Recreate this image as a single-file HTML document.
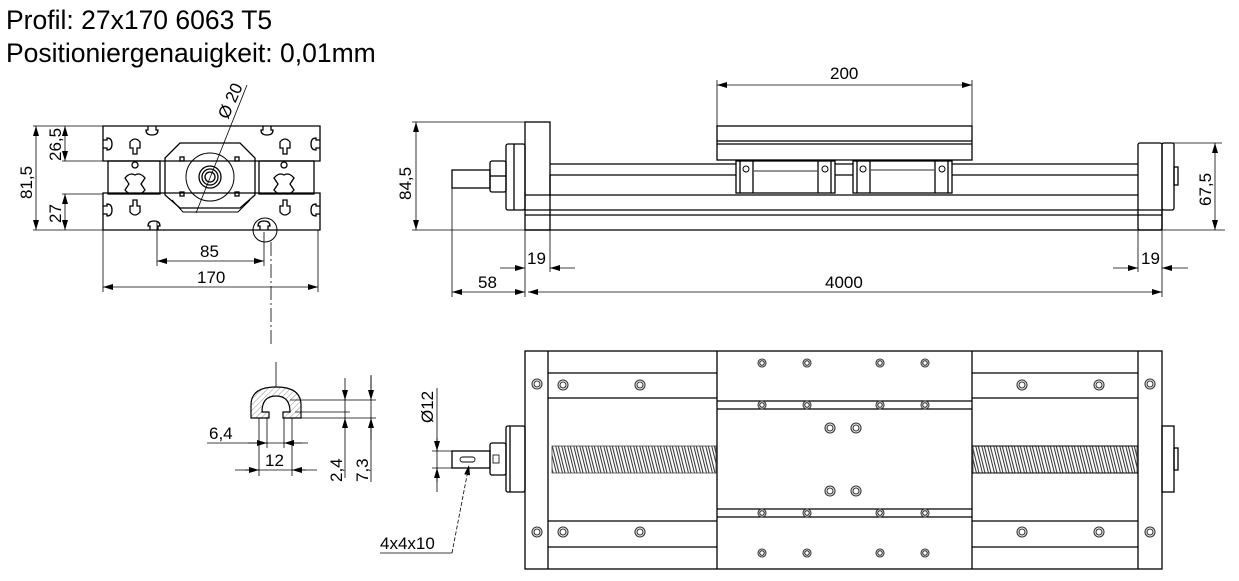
<!DOCTYPE html>
<html><head><meta charset="utf-8"><style>
html,body{margin:0;padding:0;background:#fff;}
svg{display:block;}
text{font-family:"Liberation Sans",Arial,sans-serif;fill:#000;}
</style></head><body>
<svg width="1239" height="581" viewBox="0 0 1239 581" xmlns="http://www.w3.org/2000/svg">
<defs>
<marker id="a" viewBox="0 0 10 6" refX="10" refY="3" markerWidth="10" markerHeight="6" markerUnits="userSpaceOnUse" orient="auto-start-reverse"><path d="M0,0 L10,3 L0,6z" fill="#000"/></marker>
<pattern id="th" width="6" height="30" patternUnits="userSpaceOnUse" patternTransform="skewX(14)">
<rect x="0.5" y="-1" width="2.6" height="32" fill="none" stroke="#333" stroke-width="1.1"/>
</pattern>
<pattern id="hat" width="4" height="4" patternUnits="userSpaceOnUse" patternTransform="rotate(45)"><line x1="0" y1="0" x2="0" y2="4" stroke="#666" stroke-width="0.7"/></pattern>
<g id="h"><circle r="5" fill="#fff" stroke="#333" stroke-width="1.1"/><circle r="3" fill="none" stroke="#333" stroke-width="1.1"/></g>
<g id="hs"><circle r="4" fill="#fff" stroke="#333" stroke-width="1.1"/><circle r="2.3" fill="none" stroke="#333" stroke-width="1.1"/></g>
</defs>
<text x="6" y="29" font-size="26.5">Profil: 27x170 6063 T5</text>
<text x="6" y="62" font-size="26.5">Positioniergenauigkeit: 0,01mm</text>

<g fill="none" stroke="#000" stroke-width="1.3">
<path d="M103,126 H320 V161 H103Z"/>
<path d="M103,193 H320 V230 H103Z"/>
<rect x="108" y="161" width="52" height="33"/>
<rect x="259" y="161" width="55" height="33"/>
<path d="M180,143 H240 L255,158 V195 L240,208 H180 L165,195 V158Z"/>
<path d="M172,200 L183,212 H238 L250,200" stroke-width="1"/>
<circle cx="210" cy="177" r="24" stroke-width="1"/>
<circle cx="210" cy="177" r="11"/><circle cx="210" cy="177" r="8"/><circle cx="210" cy="177" r="5"/>
<rect x="180" y="157" width="4" height="4"/><rect x="235" y="157" width="4" height="4"/>
<rect x="180" y="192" width="4" height="4"/><rect x="235" y="192" width="4" height="4"/>
<circle cx="135" cy="165" r="3"/><circle cx="284" cy="165" r="3"/>
<path d="M125,178 q5,-6 10,-3 q5,-3 10,3 l-4,6 l4,6 q-5,6 -10,3 q-5,3 -10,-3 l4,-6z"/>
<path d="M274,178 q5,-6 10,-3 q5,-3 10,3 l-4,6 l4,6 q-5,6 -10,3 q-5,3 -10,-3 l4,-6z"/>
<path d="M148,126 v4 h-2 q0,5 6,5 q6,0 6,-5 h-2 v-4"/>
<path d="M263,126 v4 h-2 q0,5 6,5 q6,0 6,-5 h-2 v-4"/>
<path d="M150,230 v-4 h-2 q0,-5 6,-5 q6,0 6,5 h-2 v4"/>
<path d="M103,140 h4 v-2 q5,0 5,6 q0,6 -5,6 v-2 h-4"/>
<path d="M320,140 h-4 v-2 q-5,0 -5,6 q0,6 5,6 v-2 h4"/>
<path d="M103,206 h4 v-2 q5,0 5,6 q0,6 -5,6 v-2 h-4"/>
<path d="M320,206 h-4 v-2 q-5,0 -5,6 q0,6 5,6 v-2 h4"/>
<path d="M130,142 q5,-6 10,0 v6 h-3 v6 h-4 v-6 h-3z"/>
<path d="M280,142 q5,-6 10,0 v6 h-3 v6 h-4 v-6 h-3z"/>
<path d="M130,212 q5,6 10,0 v-6 h-3 v-6 h-4 v6 h-3z"/>
<path d="M280,212 q5,6 10,0 v-6 h-3 v-6 h-4 v6 h-3z"/>
<circle cx="265" cy="230" r="12" stroke-width="1"/>
<path d="M260,230 v-4 h-2 q0,-5 6,-5 q6,0 6,5 h-2 v4"/>
</g>
<g stroke="#000" stroke-width="0.8" fill="none">
<line x1="33" y1="126" x2="103" y2="126"/><line x1="33" y1="230" x2="103" y2="230"/>
<line x1="62" y1="161" x2="103" y2="161"/><line x1="62" y1="194" x2="103" y2="194"/>
<line x1="36" y1="126" x2="36" y2="230" marker-start="url(#a)" marker-end="url(#a)"/>
<line x1="65" y1="126" x2="65" y2="161" marker-start="url(#a)" marker-end="url(#a)"/>
<line x1="65" y1="194" x2="65" y2="230" marker-start="url(#a)" marker-end="url(#a)"/>
<line x1="103" y1="230" x2="103" y2="292"/><line x1="318" y1="230" x2="318" y2="292"/>
<line x1="157" y1="222" x2="157" y2="266"/><line x1="264" y1="232" x2="264" y2="266"/>
<line x1="157" y1="261" x2="264" y2="261" marker-start="url(#a)" marker-end="url(#a)"/>
<line x1="103" y1="287" x2="318" y2="287" marker-start="url(#a)" marker-end="url(#a)"/>
<line x1="271" y1="242" x2="271" y2="345" stroke-dasharray="14,3,2,3"/>
<line x1="247" y1="85" x2="196" y2="213"/>
</g>
<text x="0" y="0" font-size="17" transform="translate(32,199) rotate(-90)">81,5</text>
<text x="0" y="0" font-size="17" transform="translate(61,161) rotate(-90)">26,5</text>
<text x="0" y="0" font-size="17" transform="translate(61,223) rotate(-90)">27</text>
<text x="200" y="257" font-size="17">85</text>
<text x="197" y="283" font-size="17">170</text>
<text x="0" y="0" font-size="17" transform="translate(228,120) rotate(-66)">Ø 20</text>

<path d="M251,418 V405 Q251,387 276,387 Q301,387 301,405 V418 H283 V412 H290 Q290,396 276,396 Q262,396 262,412 H269 V418Z" fill="url(#hat)" stroke="#000" stroke-width="1.2"/>
<g stroke="#000" stroke-width="0.8" fill="none">
<line x1="276" y1="387" x2="276" y2="362"/>
<line x1="290" y1="400" x2="376" y2="400"/><line x1="295" y1="412" x2="350" y2="412"/><line x1="301" y1="418" x2="376" y2="418"/>
<line x1="345" y1="378" x2="345" y2="478"/><line x1="345" y1="390" x2="345" y2="400" marker-end="url(#a)"/><line x1="345" y1="428" x2="345" y2="418" marker-end="url(#a)"/>
<line x1="371" y1="375" x2="371" y2="482"/><line x1="371" y1="376" x2="371" y2="400" marker-end="url(#a)"/><line x1="371" y1="440" x2="371" y2="418" marker-end="url(#a)"/>
<line x1="259" y1="418" x2="259" y2="476"/><line x1="292" y1="418" x2="292" y2="476"/>
<line x1="267" y1="418" x2="267" y2="448"/><line x1="284" y1="418" x2="284" y2="448"/>
<line x1="207" y1="443" x2="308" y2="443"/><line x1="248" y1="443" x2="267" y2="443" marker-end="url(#a)"/><line x1="302" y1="443" x2="284" y2="443" marker-end="url(#a)"/>
<line x1="235" y1="470" x2="317" y2="470"/><line x1="245" y1="470" x2="259" y2="470" marker-end="url(#a)"/><line x1="306" y1="470" x2="292" y2="470" marker-end="url(#a)"/>
</g>
<text x="209" y="439" font-size="17">6,4</text>
<text x="265" y="466" font-size="17">12</text>
<text x="0" y="0" font-size="17" transform="translate(342,482) rotate(-90)">2,4</text>
<text x="0" y="0" font-size="17" transform="translate(368,482) rotate(-90)">7,3</text>

<g fill="none" stroke="#000" stroke-width="1.3">
<rect x="525" y="122" width="25" height="108"/>
<rect x="506" y="144" width="19" height="66" rx="2"/><line x1="514" y1="144" x2="514" y2="210"/>
<rect x="490" y="161" width="16" height="31" rx="2"/><line x1="490" y1="176" x2="506" y2="176"/>
<rect x="452" y="170" width="38" height="18"/>
<line x1="550" y1="164" x2="1138" y2="164"/><line x1="550" y1="175" x2="1138" y2="175"/>
<line x1="550" y1="175" x2="550" y2="195"/>
<line x1="525" y1="195" x2="1138" y2="195"/>
<line x1="525" y1="210" x2="1162" y2="210"/><line x1="525" y1="215" x2="1162" y2="215"/>
<line x1="525" y1="230" x2="1162" y2="230"/>
<line x1="1162" y1="210" x2="1162" y2="230"/>
<rect x="1138" y="143" width="24" height="87" rx="2"/>
<rect x="1162" y="143" width="12" height="67" rx="2"/>
<rect x="1174" y="167" width="4" height="18"/>
<rect x="717" y="126" width="255" height="34" fill="#fff"/>
<line x1="717" y1="141" x2="972" y2="141"/><line x1="717" y1="144" x2="972" y2="144"/>
<rect x="736" y="161" width="99" height="32" fill="#fff"/>
<line x1="740" y1="161" x2="740" y2="193"/><line x1="753" y1="161" x2="753" y2="193"/>
<line x1="818" y1="161" x2="818" y2="193"/><line x1="831" y1="161" x2="831" y2="193"/>
<line x1="753" y1="171" x2="818" y2="171" stroke="#555"/>
<rect x="853" y="161" width="99" height="32" fill="#fff"/>
<line x1="857" y1="161" x2="857" y2="193"/><line x1="870" y1="161" x2="870" y2="193"/>
<line x1="935" y1="161" x2="935" y2="193"/><line x1="948" y1="161" x2="948" y2="193"/>
<line x1="870" y1="170" x2="935" y2="170" stroke="#555"/>
<circle cx="746" cy="169" r="3" stroke-width="1"/><circle cx="825" cy="169" r="3" stroke-width="1"/>
<circle cx="863" cy="169" r="3" stroke-width="1"/><circle cx="942" cy="169" r="3" stroke-width="1"/>
</g>
<g stroke="#000" stroke-width="0.8" fill="none">
<line x1="412" y1="122" x2="525" y2="122"/><line x1="412" y1="230" x2="525" y2="230"/>
<line x1="1162" y1="230" x2="1225" y2="230"/><line x1="1162" y1="143" x2="1222" y2="143"/>
<line x1="416" y1="122" x2="416" y2="230" marker-start="url(#a)" marker-end="url(#a)"/>
<line x1="1215" y1="143" x2="1215" y2="230" marker-start="url(#a)" marker-end="url(#a)"/>
<line x1="717" y1="80" x2="717" y2="126"/><line x1="972" y1="80" x2="972" y2="126"/>
<line x1="717" y1="85" x2="972" y2="85" marker-start="url(#a)" marker-end="url(#a)"/>
<line x1="452" y1="188" x2="452" y2="297"/><line x1="525" y1="230" x2="525" y2="297"/>
<line x1="550" y1="195" x2="550" y2="272"/><line x1="1138" y1="230" x2="1138" y2="272"/><line x1="1162" y1="230" x2="1162" y2="297"/>
<line x1="500" y1="268" x2="525" y2="268" marker-end="url(#a)"/><line x1="575" y1="268" x2="550" y2="268" marker-end="url(#a)"/>
<line x1="1113" y1="268" x2="1138" y2="268" marker-end="url(#a)"/><line x1="1188" y1="268" x2="1162" y2="268" marker-end="url(#a)"/>
<line x1="452" y1="292" x2="525" y2="292" marker-start="url(#a)" marker-end="url(#a)"/>
<line x1="528" y1="292" x2="1162" y2="292" marker-start="url(#a)" marker-end="url(#a)"/>
</g>
<text x="0" y="0" font-size="17" transform="translate(411,200) rotate(-90)">84,5</text>
<text x="0" y="0" font-size="17" transform="translate(1211,206) rotate(-90)">67,5</text>
<text x="830" y="79" font-size="17">200</text>
<text x="527" y="264" font-size="17">19</text>
<text x="1141" y="264" font-size="17">19</text>
<text x="478" y="288" font-size="17">58</text>
<text x="825" y="288" font-size="17">4000</text>

<g fill="none" stroke="#000" stroke-width="1.3">
<rect x="525" y="351" width="637" height="218"/>
<line x1="548" y1="351" x2="548" y2="569"/><line x1="1138" y1="351" x2="1138" y2="569"/>
<line x1="717" y1="351" x2="717" y2="569"/><line x1="972" y1="351" x2="972" y2="569"/>
<line x1="548" y1="373" x2="717" y2="373"/><line x1="548" y1="398" x2="717" y2="398"/>
<line x1="548" y1="521" x2="717" y2="521"/><line x1="548" y1="547" x2="717" y2="547"/>
<line x1="972" y1="373" x2="1138" y2="373"/><line x1="972" y1="398" x2="1138" y2="398"/>
<line x1="972" y1="521" x2="1138" y2="521"/><line x1="972" y1="547" x2="1138" y2="547"/>
<line x1="717" y1="401" x2="972" y2="401"/><line x1="717" y1="409" x2="972" y2="409"/>
<line x1="717" y1="509" x2="972" y2="509"/><line x1="717" y1="517" x2="972" y2="517"/>
<rect x="506" y="426" width="19" height="66" rx="2"/><line x1="510" y1="426" x2="510" y2="492"/>
<rect x="490" y="443" width="16" height="32" rx="2"/><rect x="493" y="455" width="6" height="8" stroke-width="0.8"/>
<rect x="452" y="451" width="38" height="17"/>
<rect x="460" y="457" width="15" height="5" rx="2.5" stroke-width="0.9"/>
<rect x="1162" y="426" width="12" height="66"/>
<rect x="1174" y="448" width="4" height="22"/>
</g>
<rect x="552" y="446" width="164" height="27" fill="url(#th)" stroke="#444" stroke-width="0.8"/>
<rect x="973" y="446" width="164" height="27" fill="url(#th)" stroke="#444" stroke-width="0.8"/>
<line x1="972" y1="446" x2="1138" y2="446" stroke="#000" stroke-width="1"/><line x1="972" y1="473" x2="1138" y2="473" stroke="#000" stroke-width="1"/>
<use href="#h" x="537" y="384"/><use href="#h" x="537" y="532"/><use href="#h" x="1150" y="384"/><use href="#h" x="1150" y="532"/>
<use href="#h" x="563" y="385"/><use href="#h" x="640" y="385"/><use href="#h" x="563" y="532"/><use href="#h" x="640" y="532"/>
<use href="#h" x="1022" y="385"/><use href="#h" x="1099" y="385"/><use href="#h" x="1022" y="532"/><use href="#h" x="1099" y="532"/>
<use href="#h" x="830" y="428"/><use href="#h" x="856" y="428"/><use href="#h" x="830" y="491"/><use href="#h" x="856" y="491"/>
<use href="#hs" x="762" y="363"/><use href="#hs" x="807" y="363"/><use href="#hs" x="880" y="363"/><use href="#hs" x="925" y="363"/>
<use href="#hs" x="762" y="405"/><use href="#hs" x="807" y="405"/><use href="#hs" x="880" y="405"/><use href="#hs" x="925" y="405"/>
<use href="#hs" x="762" y="513"/><use href="#hs" x="807" y="513"/><use href="#hs" x="880" y="513"/><use href="#hs" x="925" y="513"/>
<use href="#hs" x="762" y="553"/><use href="#hs" x="807" y="553"/><use href="#hs" x="880" y="553"/><use href="#hs" x="925" y="553"/>
<g stroke="#000" stroke-width="0.8" fill="none">
<line x1="432" y1="451" x2="452" y2="451"/><line x1="432" y1="468" x2="452" y2="468"/>
<line x1="437" y1="388" x2="437" y2="492"/>
<line x1="437" y1="438" x2="437" y2="451" marker-end="url(#a)"/><line x1="437" y1="482" x2="437" y2="468" marker-end="url(#a)"/>
<line x1="380" y1="553" x2="452" y2="553"/>
<line x1="452" y1="553" x2="469" y2="465" stroke-dasharray="4,2" marker-end="url(#a)"/>
</g>
<text x="0" y="0" font-size="17" transform="translate(433,423) rotate(-90)">Ø12</text>
<text x="380" y="549" font-size="17">4x4x10</text>
</svg>
</body></html>
